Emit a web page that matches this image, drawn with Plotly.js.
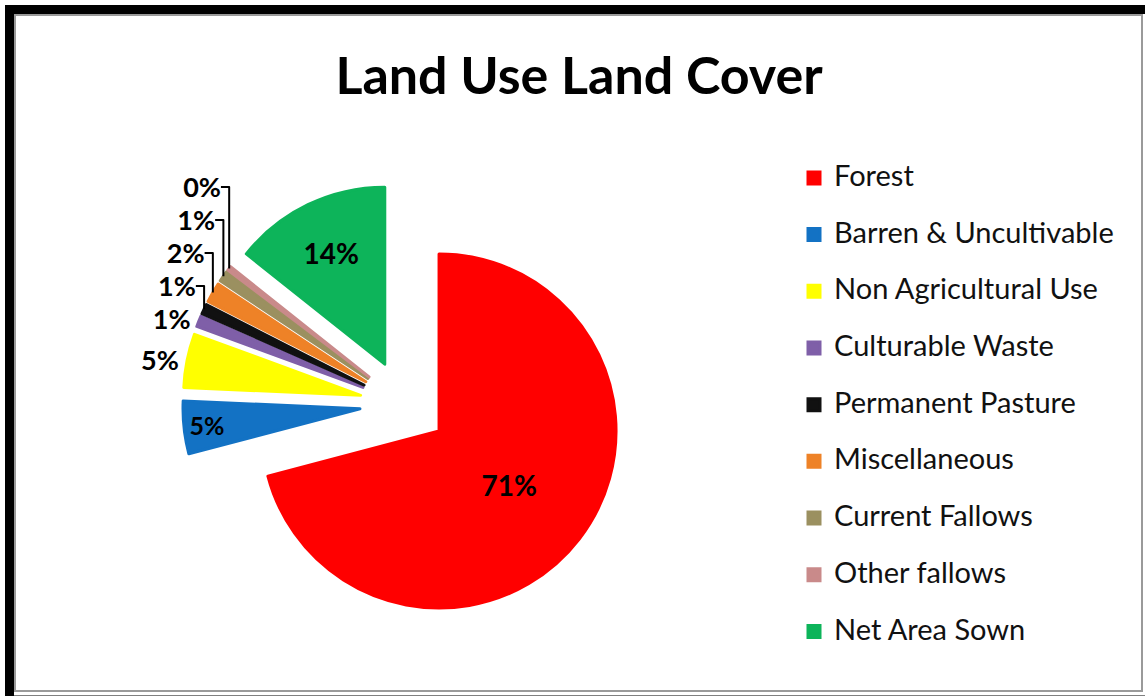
<!DOCTYPE html>
<html><head><meta charset="utf-8">
<script src="https://cdn.plot.ly/plotly-3.0.1.min.js"></script>
<style>html,body{margin:0;padding:0;background:#fff;} #chart{width:1145px;height:696px;}</style>
</head><body><div id="chart"></div>
<script>
// ---- data ----
const categories = ["Forest", "Barren & Uncultivable", "Non Agricultural Use", "Culturable Waste",
  "Permanent Pasture", "Miscellaneous", "Current Fallows", "Other fallows", "Net Area Sown"];
const shares = [70.9, 4.8, 4.9, 1.0, 0.9, 1.8, 1.0, 0.4, 14.3];
const chartTitle = "Land Use Land Cover";

// ---- style ----
const sliceColors = ["#FF0000", "#1372C4", "#FFFF00", "#7F5FA8", "#111111", "#EE8227", "#9B9060", "#C98A8A", "#0DB45A"];
const labelPlacement = ["inside", "inside", "outside", "outside", "outside", "outside", "outside", "outside", "inside"];
const FONT = 'Lato, "Open Sans", "Liberation Sans", sans-serif';

const W = 1145, H = 696;
const legendLabels = categories.map(c => '<span style="font-size:29px">' + c + '</span><br> ');

const trace = {
  type: 'pie',
  labels: legendLabels,
  values: shares,
  sort: false,
  direction: 'clockwise',
  rotation: 0,
  pull: 0.25,
  marker: { colors: sliceColors, line: { color: sliceColors, width: 3 } },
  textinfo: 'percent',
  texttemplate: '%{percent:.0%}',
  textposition: labelPlacement,
  insidetextorientation: 'horizontal',
  textfont: { family: FONT, size: 28, color: '#000', weight: 'bold' },
  outsidetextfont: { family: FONT, size: 27, color: '#000', weight: 'bold' },
  insidetextfont: { family: FONT, size: 28, color: '#000', weight: 'bold' },
  hoverinfo: 'none',
  domain: { x: [182.75 / W, 625.25 / W], y: [1 - 625.25 / H, 1 - 182.75 / H] }
};

const layout = {
  width: W, height: H,
  margin: { l: 0, r: 0, t: 0, b: 0 },
  paper_bgcolor: '#fff',
  font: { family: FONT, color: '#000' },
  title: { text: chartTitle, font: { family: FONT, size: 52, weight: 'bold', color: '#000' },
    x: 579 / W, xanchor: 'center', xref: 'paper', y: 1 - 76 / H, yref: 'container', yanchor: 'middle' },
  showlegend: true,
  legend: { x: 794 / W, xanchor: 'left', y: 1 - 158 / H, yanchor: 'top', valign: 'top',
    font: { family: FONT, size: 20.65, color: '#111' }, bgcolor: 'rgba(0,0,0,0)', traceorder: 'normal' },
  shapes: [
    { type: 'rect', xref: 'paper', yref: 'paper', x0: 9.5 / W, x1: 1150 / W, y0: 1 - 700 / H, y1: 1 - 9.5 / H,
      line: { color: '#000', width: 9 }, fillcolor: 'rgba(0,0,0,0)', layer: 'above' },
    { type: 'rect', xref: 'paper', yref: 'paper', x0: 15 / W, x1: 1142 / W, y0: 1 - 691 / H, y1: 1 - 15 / H,
      line: { color: '#9a9a9a', width: 2 }, fillcolor: 'rgba(0,0,0,0)', layer: 'above' }
  ]
};

Plotly.newPlot('chart', [trace], layout, { staticPlot: true, displayModeBar: false });
</script>
</body></html>
